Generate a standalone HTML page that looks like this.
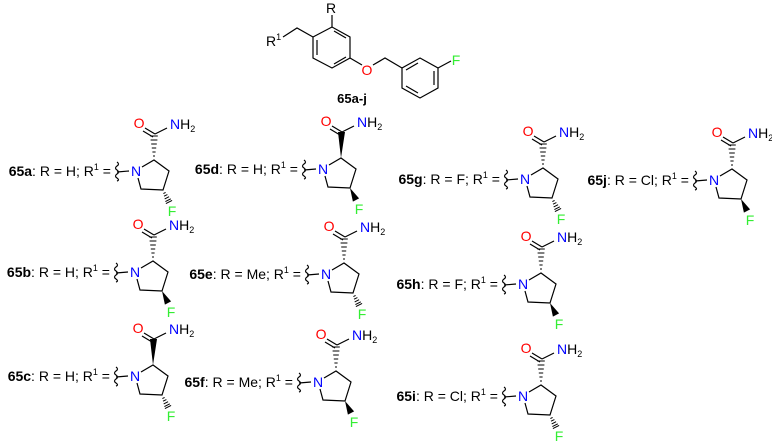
<!DOCTYPE html>
<html><head><meta charset="utf-8"><style>
html,body{margin:0;padding:0;background:#fff;}
svg{display:block;font-family:"Liberation Sans",Arial,sans-serif;}
</style></head><body>
<svg width="772" height="443" viewBox="0 0 772 443" xmlns="http://www.w3.org/2000/svg">
<defs>
<g id="ring" stroke="#000" stroke-width="1.2" fill="none">
<path d="M6,-4 L18,-11 L33,0 L27,19 L5,18 L2,7"/>
<path d="M-19,1 L-7,0"/>
<path d="M-19,-9 q3,2 0,4 q-3,2 0,4 q3,2 0,4 q-3,2 0,4 q3,2 0,3"/>
<path d="M19,-37 L31,-43"/>
<path d="M19,-37 L9,-43 M17,-34 L7,-40"/>
</g>
<g id="hC" stroke="#000" stroke-width="1">
<path d="M17,-15 h2 M16.4,-19 h3.2 M15.8,-23 h4.4 M15.2,-27 h5.6 M14.6,-31 h6.8 M14.2,-35 h7.6"/>
</g>
<g id="wC"><polygon points="18,-11 15,-37 22,-37" fill="#000"/></g>
<g id="hF" stroke="#000" stroke-width="1">
<path d="M27.4,22.6 L29.6,21.4 M28,25.2 L31.4,23.6 M28.7,27.9 L33.1,25.7 M29.4,30.6 L34.8,27.8 M29.9,32.6 L36.1,29.4"/>
</g>
<g id="wF"><polygon points="27,19 29.9,32.6 36.1,29.4" fill="#000"/></g>
</defs>

<!-- top structure -->
<g stroke="#000" stroke-width="1.2" fill="none">
<path d="M313,37 L332,27 L350,37 L350,58 L332,68 L313,58 Z"/>
<path d="M317,40 L317,55 M334,31 L346,38 M334,64 L346,57"/>
<path d="M332,27 L332,15"/>
<path d="M313,37 L297,28 L283,37"/>
<path d="M350,58 L362,65 M373,65 L385,58 L402,68"/>
<path d="M420,58 L438,68 L438,88 L420,98 L402,88 L402,68 Z"/>
<path d="M434,71 L434,85 M406,86 L418,93 M406,70 L418,63"/>
<path d="M438,68 L451,61"/>
</g>
<text x="331" y="13" font-size="14" text-anchor="middle">R</text>
<text x="266" y="46" font-size="14">R<tspan font-size="9" dy="-6">1</tspan></text>
<text x="367" y="75" font-size="14" text-anchor="middle" fill="#f00">O</text>
<text x="456" y="65" font-size="14" text-anchor="middle" fill="#33ee33">F</text>
<text x="352" y="103" font-size="13" font-weight="bold" text-anchor="middle">65a-j</text>

<g font-size="14">
<g transform="translate(136,171)"><use href="#ring"/><use href="#hC"/><use href="#hF"/>
<text x="0" y="5" text-anchor="middle" fill="#00f">N</text><text x="3" y="-43" text-anchor="middle" fill="#f00">O</text>
<text x="34" y="-42" fill="#00f">N<tspan fill="#000">H<tspan font-size="9" dy="3">2</tspan></tspan></text>
<text x="36" y="45" text-anchor="middle" fill="#33ee33">F</text>
<text x="-25" y="5" text-anchor="end"><tspan font-weight="bold">65a</tspan>: R = H; R<tspan font-size="9" dy="-6">1</tspan><tspan dy="6"> =</tspan></text></g>
<g transform="translate(135,272)"><use href="#ring"/><use href="#hC"/><use href="#wF"/>
<text x="0" y="5" text-anchor="middle" fill="#00f">N</text><text x="3" y="-43" text-anchor="middle" fill="#f00">O</text>
<text x="34" y="-42" fill="#00f">N<tspan fill="#000">H<tspan font-size="9" dy="3">2</tspan></tspan></text>
<text x="36" y="45" text-anchor="middle" fill="#33ee33">F</text>
<text x="-25" y="5" text-anchor="end"><tspan font-weight="bold">65b</tspan>: R = H; R<tspan font-size="9" dy="-6">1</tspan><tspan dy="6"> =</tspan></text></g>
<g transform="translate(135,376)"><use href="#ring"/><use href="#wC"/><use href="#hF"/>
<text x="0" y="5" text-anchor="middle" fill="#00f">N</text><text x="3" y="-43" text-anchor="middle" fill="#f00">O</text>
<text x="34" y="-42" fill="#00f">N<tspan fill="#000">H<tspan font-size="9" dy="3">2</tspan></tspan></text>
<text x="36" y="45" text-anchor="middle" fill="#33ee33">F</text>
<text x="-25" y="5" text-anchor="end"><tspan font-weight="bold">65c</tspan>: R = H; R<tspan font-size="9" dy="-6">1</tspan><tspan dy="6"> =</tspan></text></g>
<g transform="translate(323,169)"><use href="#ring"/><use href="#wC"/><use href="#wF"/>
<text x="0" y="5" text-anchor="middle" fill="#00f">N</text><text x="3" y="-43" text-anchor="middle" fill="#f00">O</text>
<text x="34" y="-42" fill="#00f">N<tspan fill="#000">H<tspan font-size="9" dy="3">2</tspan></tspan></text>
<text x="36" y="45" text-anchor="middle" fill="#33ee33">F</text>
<text x="-25" y="5" text-anchor="end"><tspan font-weight="bold">65d</tspan>: R = H; R<tspan font-size="9" dy="-6">1</tspan><tspan dy="6"> =</tspan></text></g>
<g transform="translate(326,274)"><use href="#ring"/><use href="#hC"/><use href="#hF"/>
<text x="0" y="5" text-anchor="middle" fill="#00f">N</text><text x="3" y="-43" text-anchor="middle" fill="#f00">O</text>
<text x="34" y="-42" fill="#00f">N<tspan fill="#000">H<tspan font-size="9" dy="3">2</tspan></tspan></text>
<text x="36" y="45" text-anchor="middle" fill="#33ee33">F</text>
<text x="-25" y="5" text-anchor="end"><tspan font-weight="bold">65e</tspan>: R = Me; R<tspan font-size="9" dy="-6">1</tspan><tspan dy="6"> =</tspan></text></g>
<g transform="translate(318,382)"><use href="#ring"/><use href="#hC"/><use href="#wF"/>
<text x="0" y="5" text-anchor="middle" fill="#00f">N</text><text x="3" y="-43" text-anchor="middle" fill="#f00">O</text>
<text x="34" y="-42" fill="#00f">N<tspan fill="#000">H<tspan font-size="9" dy="3">2</tspan></tspan></text>
<text x="36" y="45" text-anchor="middle" fill="#33ee33">F</text>
<text x="-25" y="5" text-anchor="end"><tspan font-weight="bold">65f</tspan>: R = Me; R<tspan font-size="9" dy="-6">1</tspan><tspan dy="6"> =</tspan></text></g>
<g transform="translate(525,179)"><use href="#ring"/><use href="#hC"/><use href="#hF"/>
<text x="0" y="5" text-anchor="middle" fill="#00f">N</text><text x="3" y="-43" text-anchor="middle" fill="#f00">O</text>
<text x="34" y="-42" fill="#00f">N<tspan fill="#000">H<tspan font-size="9" dy="3">2</tspan></tspan></text>
<text x="36" y="45" text-anchor="middle" fill="#33ee33">F</text>
<text x="-25" y="5" text-anchor="end"><tspan font-weight="bold">65g</tspan>: R = F; R<tspan font-size="9" dy="-6">1</tspan><tspan dy="6"> =</tspan></text></g>
<g transform="translate(523,284)"><use href="#ring"/><use href="#hC"/><use href="#wF"/>
<text x="0" y="5" text-anchor="middle" fill="#00f">N</text><text x="3" y="-43" text-anchor="middle" fill="#f00">O</text>
<text x="34" y="-42" fill="#00f">N<tspan fill="#000">H<tspan font-size="9" dy="3">2</tspan></tspan></text>
<text x="36" y="45" text-anchor="middle" fill="#33ee33">F</text>
<text x="-25" y="5" text-anchor="end"><tspan font-weight="bold">65h</tspan>: R = F; R<tspan font-size="9" dy="-6">1</tspan><tspan dy="6"> =</tspan></text></g>
<g transform="translate(523,396)"><use href="#ring"/><use href="#hC"/><use href="#hF"/>
<text x="0" y="5" text-anchor="middle" fill="#00f">N</text><text x="3" y="-43" text-anchor="middle" fill="#f00">O</text>
<text x="34" y="-42" fill="#00f">N<tspan fill="#000">H<tspan font-size="9" dy="3">2</tspan></tspan></text>
<text x="36" y="45" text-anchor="middle" fill="#33ee33">F</text>
<text x="-25" y="5" text-anchor="end"><tspan font-weight="bold">65i</tspan>: R = Cl; R<tspan font-size="9" dy="-6">1</tspan><tspan dy="6"> =</tspan></text></g>
<g transform="translate(714,180)"><use href="#ring"/><use href="#hC"/><use href="#wF"/>
<text x="0" y="5" text-anchor="middle" fill="#00f">N</text><text x="3" y="-43" text-anchor="middle" fill="#f00">O</text>
<text x="34" y="-42" fill="#00f">N<tspan fill="#000">H<tspan font-size="9" dy="3">2</tspan></tspan></text>
<text x="36" y="45" text-anchor="middle" fill="#33ee33">F</text>
<text x="-25" y="5" text-anchor="end"><tspan font-weight="bold">65j</tspan>: R = Cl; R<tspan font-size="9" dy="-6">1</tspan><tspan dy="6"> =</tspan></text></g>
</g>
</svg>
</body></html>
